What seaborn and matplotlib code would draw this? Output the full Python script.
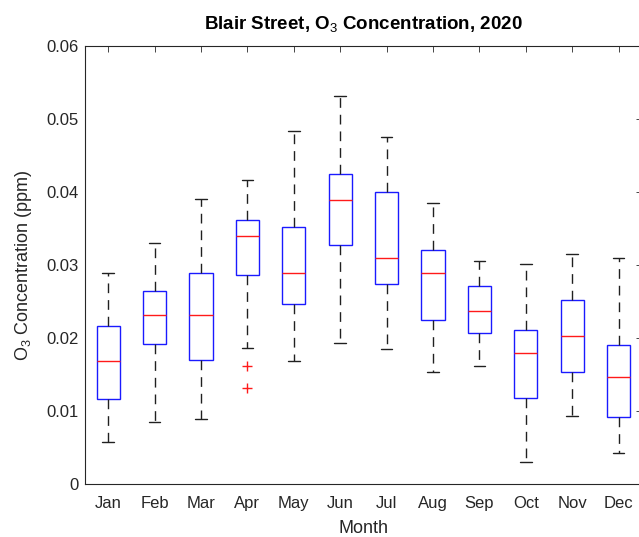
import pandas as pd
import seaborn as sns
import matplotlib.pyplot as plt
from matplotlib.ticker import FixedLocator, FuncFormatter

# Monthly ozone summary statistics (ppm)
months = ["Jan", "Feb", "Mar", "Apr", "May", "Jun",
          "Jul", "Aug", "Sep", "Oct", "Nov", "Dec"]
whisker_low = [0.0058, 0.0085, 0.0089, 0.0186, 0.0169, 0.0193,
               0.0185, 0.0153, 0.0162, 0.0030, 0.0093, 0.0042]
q1 = [0.0117, 0.0192, 0.0170, 0.0286, 0.0247, 0.0328,
      0.0274, 0.0225, 0.0207, 0.0118, 0.0153, 0.0092]
median = [0.0169, 0.0232, 0.0232, 0.0340, 0.0289, 0.0389,
          0.0310, 0.0289, 0.0237, 0.0180, 0.0203, 0.0147]
q3 = [0.0216, 0.0265, 0.0289, 0.0362, 0.0352, 0.0424,
      0.0400, 0.0321, 0.0271, 0.0211, 0.0252, 0.0191]
whisker_high = [0.0289, 0.0330, 0.0390, 0.0417, 0.0484, 0.0532,
                0.0476, 0.0385, 0.0305, 0.0301, 0.0315, 0.0309]
outlier_month = ["Apr", "Apr"]
outlier_value = [0.0161, 0.0132]

y_ticks = [0, 0.01, 0.02, 0.03, 0.04, 0.05, 0.06]

# Long table: five-number summary per month
rows = []
for i, m in enumerate(months):
    for v in (whisker_low[i], q1[i], median[i], q3[i], whisker_high[i]):
        rows.append({"Month": m, "O3": v})
df = pd.DataFrame(rows)

sns.set_theme(style="white")
text_color = "#262626"
plt.rcParams.update({
    "font.family": ["Liberation Sans", "DejaVu Sans"],
    "mathtext.fontset": "custom",
    "mathtext.rm": "Liberation Sans",
    "mathtext.bf": "Liberation Sans:bold",
    "xtick.direction": "in",
    "ytick.direction": "in",
    "xtick.top": True,
    "ytick.right": True,
    "xtick.major.size": 4,
    "ytick.major.size": 4,
    "xtick.major.width": 0.6,
    "ytick.major.width": 0.6,
    "axes.edgecolor": text_color,
    "axes.linewidth": 0.8,
    "xtick.color": text_color,
    "ytick.color": text_color,
    "axes.labelcolor": text_color,
    "text.color": text_color,
})

fig = plt.figure(figsize=(6.39, 5.37), dpi=100)
ax = fig.add_axes([0.133, 0.0987, 0.8713, 0.8156])

sns.boxplot(
    data=df, x="Month", y="O3", order=months, ax=ax,
    whis=(0, 100), width=0.5, color="white", saturation=1,
    linewidth=1.0, fliersize=0,
    boxprops={"edgecolor": "#1a1aff", "facecolor": "white"},
    medianprops={"color": "#ff1a1a"},
    whiskerprops={"color": "#202020", "linestyle": (0, (7, 5))},
    capprops={"color": "#202020"},
)

# Points beyond the whiskers
sns.scatterplot(
    x=[months.index(m) for m in outlier_month], y=outlier_value,
    marker="+", color="#ff1a1a", s=60, linewidth=1.0, ax=ax, legend=False,
)

ax.set_xlim(-0.5, len(months) - 0.5)
ax.set_ylim(0, 0.06)
ax.yaxis.set_major_locator(FixedLocator(y_ticks))
ax.yaxis.set_major_formatter(FuncFormatter(lambda v, _: f"{v:g}"))
ax.set_xticks(range(len(months)))
ax.set_xticklabels(months)
ax.tick_params(axis="both", labelsize=12)
ax.tick_params(axis="x", pad=9)
ax.tick_params(axis="y", pad=4.5)
for s in ax.spines.values():
    s.set_visible(True)

ax.set_xlabel("Month", fontsize=13, labelpad=6)
ax.set_ylabel("O$_3$ Concentration (ppm)", fontsize=13, labelpad=9)
ax.set_title("Blair Street, O$_3$ Concentration, 2020",
             fontsize=13.5, fontweight="bold", color="black", pad=12)

fig.savefig("out.png", dpi=100)
